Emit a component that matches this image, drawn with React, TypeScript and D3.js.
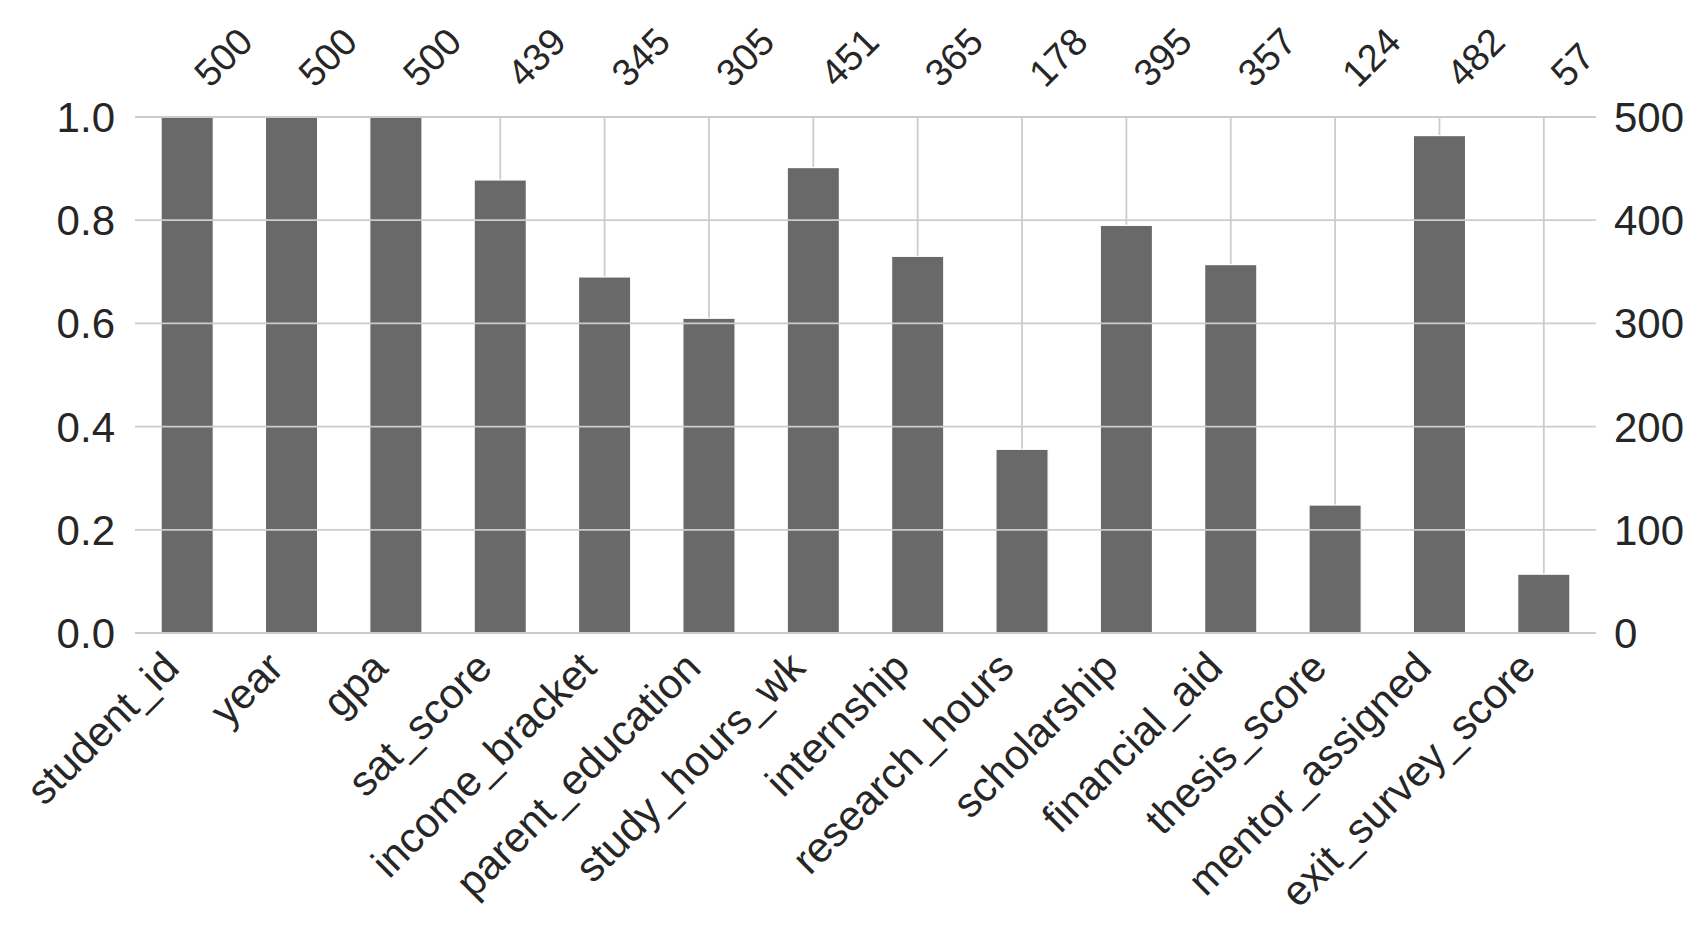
import * as d3 from "d3";

// nullity counts per column (500 rows in total)
const columns = [
  "student_id",
  "year",
  "gpa",
  "sat_score",
  "income_bracket",
  "parent_education",
  "study_hours_wk",
  "internship",
  "research_hours",
  "scholarship",
  "financial_aid",
  "thesis_score",
  "mentor_assigned",
  "exit_survey_score",
];
const counts = [500, 500, 500, 439, 345, 305, 451, 365, 178, 395, 357, 124, 482, 57];
const totalRows = 500;
const fractionTicks = [0, 0.2, 0.4, 0.6, 0.8, 1.0];

const width = 1704;
const height = 942;
const plot = { left: 135, right: 1596, top: 117, bottom: 633 };
const font = "'Liberation Sans', Arial, Helvetica, sans-serif";
const textColor = "#262626";
const gridColor = "#cccccc";

const App = () => {
  const x = d3
    .scaleBand()
    .domain(columns)
    .range([plot.left, plot.right])
    .paddingInner(0.5)
    .paddingOuter(0.25);

  const y = d3.scaleLinear().domain([0, 1]).range([plot.bottom, plot.top]);

  const rows = columns.map((c, i) => ({
    name: c,
    count: counts[i],
    frac: counts[i] / totalRows,
    cx: x(c)! + x.bandwidth() / 2,
  }));

  return (
    <svg
      width={width}
      height={height}
      style={{ position: "absolute", left: 0, top: 0, display: "block", background: "#fff" }}
      fontFamily={font}
    >
      {/* vertical grid, stops at the top of each bar */}
      {rows.map((d) => (
        <line
          key={"v" + d.name}
          x1={d.cx}
          x2={d.cx}
          y1={plot.top}
          y2={y(d.frac)}
          stroke={gridColor}
          strokeWidth={1.8}
        />
      ))}

      {rows.map((d) => (
        <rect
          key={"b" + d.name}
          x={x(d.name)}
          y={y(d.frac)}
          width={x.bandwidth()}
          height={plot.bottom - y(d.frac)}
          fill="#696969"
          stroke="#ffffff"
          strokeWidth={1.2}
        />
      ))}

      {/* horizontal grid from the twin axis sits over the bars */}
      {fractionTicks.map((t) => (
        <line
          key={"h" + t}
          x1={plot.left}
          x2={plot.right}
          y1={y(t)}
          y2={y(t)}
          stroke={gridColor}
          strokeWidth={1.8}
        />
      ))}

      {/* left axis: fraction */}
      {fractionTicks.map((t) => (
        <text
          key={"l" + t}
          x={plot.left - 20}
          y={y(t) + 15}
          textAnchor="end"
          fontSize={42}
          fill={textColor}
        >
          {t.toFixed(1)}
        </text>
      ))}

      {/* right axis: counts */}
      {fractionTicks.map((t) => (
        <text
          key={"r" + t}
          x={plot.right + 18}
          y={y(t) + 15}
          textAnchor="start"
          fontSize={42}
          fill={textColor}
        >
          {Math.round(t * totalRows)}
        </text>
      ))}

      {/* column names */}
      {rows.map((d) => {
        const px = d.cx - 6;
        const py = plot.bottom + 37;
        return (
          <text
            key={"n" + d.name}
            x={px}
            y={py}
            textAnchor="end"
            fontSize={42}
            fill={textColor}
            transform={`rotate(-45, ${px}, ${py})`}
          >
            {d.name}
          </text>
        );
      })}

      {/* counts on top */}
      {rows.map((d) => {
        const px = d.cx + 23;
        const py = plot.top - 28;
        return (
          <text
            key={"c" + d.name}
            x={px}
            y={py}
            textAnchor="start"
            fontSize={38}
            fill={textColor}
            transform={`rotate(-45, ${px}, ${py})`}
          >
            {d.count}
          </text>
        );
      })}
    </svg>
  );
};

export default App;
